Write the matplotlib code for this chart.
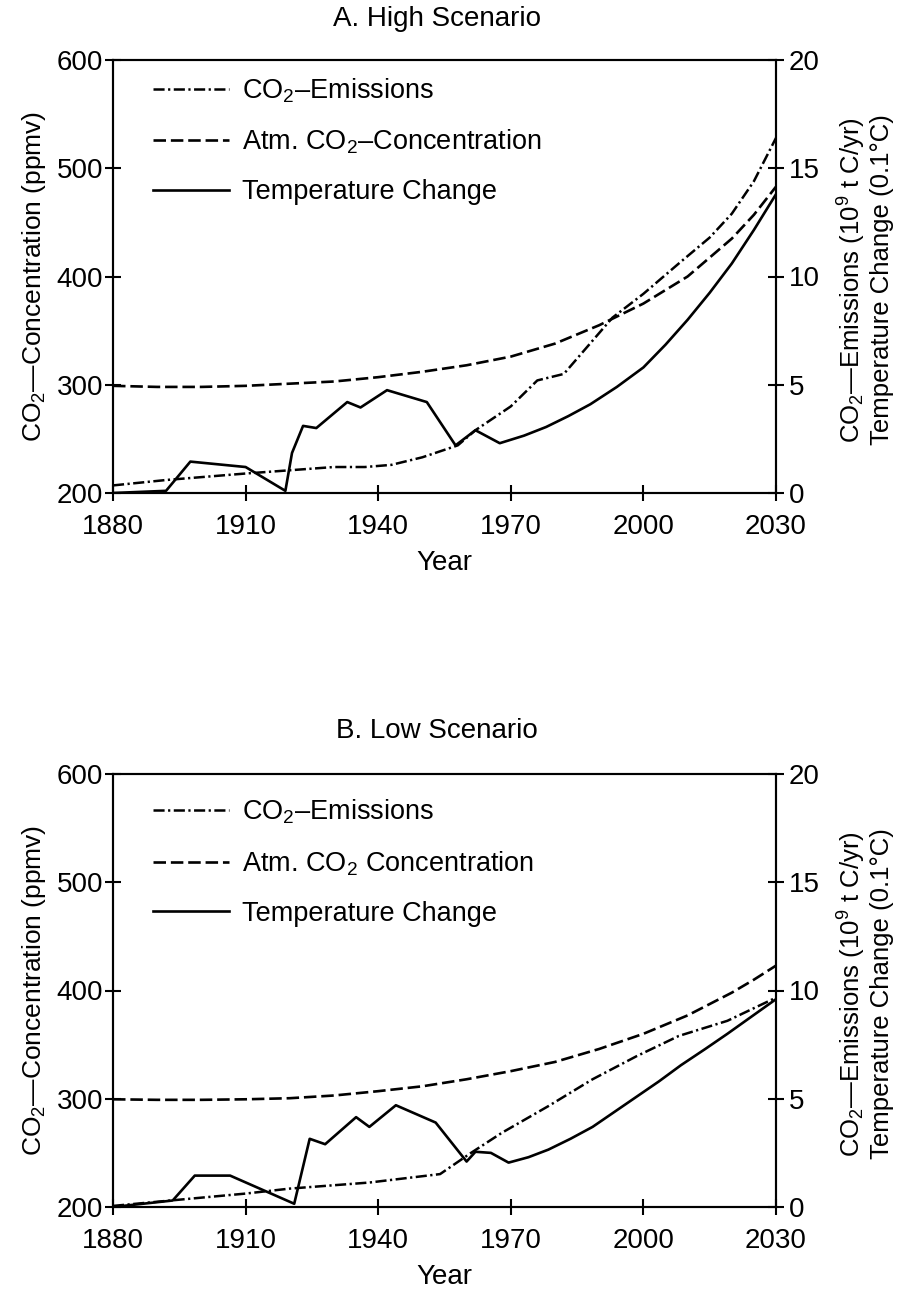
import matplotlib
matplotlib.use("Agg")
import matplotlib.pyplot as plt
import numpy as np

plt.rcParams["font.family"] = ["Liberation Sans", "DejaVu Sans"]
plt.rcParams["mathtext.fontset"] = "custom"
plt.rcParams["mathtext.rm"] = "Liberation Sans"
plt.rcParams["mathtext.it"] = "Liberation Sans:italic"
plt.rcParams["mathtext.bf"] = "Liberation Sans:bold"
plt.rcParams["lines.scale_dashes"] = False

# --- Panel A: high scenario ---
years_conc_a = [1880, 1890, 1900, 1910, 1920, 1930, 1940, 1950, 1960, 1970,
                1980, 1990, 2000, 2010, 2020, 2025, 2030]
conc_a = [299, 298, 298, 299, 301, 303, 307, 312, 318, 326,
          338, 355, 375, 400, 435, 457, 483]

years_em_a = [1880, 1892, 1910, 1920, 1930, 1937, 1943, 1950, 1958, 1962,
              1970, 1976, 1982, 1993, 2000, 2008, 2015, 2020, 2025, 2030]
em_a = [0.35, 0.6, 0.9, 1.05, 1.2, 1.2, 1.3, 1.65, 2.2, 2.9,
        4.0, 5.2, 5.5, 8.1, 9.2, 10.6, 11.8, 12.9, 14.4, 16.4]

years_t_a = [1880, 1892, 1897.5, 1910, 1919, 1920.5, 1923, 1926, 1933, 1936,
             1942, 1951, 1957.5, 1962, 1967.5, 1973, 1978, 1983, 1988, 1994,
             2000, 2005, 2010, 2015, 2020, 2025, 2030]
temp_a = [0.0, 0.1, 1.45, 1.2, 0.1, 1.85, 3.1, 3.0, 4.2, 3.95,
          4.75, 4.2, 2.2, 2.9, 2.3, 2.65, 3.05, 3.55, 4.1, 4.9,
          5.8, 6.85, 8.0, 9.25, 10.6, 12.15, 13.8]

# --- Panel B: low scenario ---
years_conc_b = [1880, 1890, 1900, 1910, 1920, 1930, 1940, 1950, 1960, 1970,
                1980, 1990, 2000, 2010, 2020, 2025, 2030]
conc_b = [299.5, 299, 299, 299.5, 300.5, 303, 307, 311.5, 318, 325.5,
          334, 346, 360, 377, 398, 410, 423]

years_em_b = [1880, 1893, 1910, 1920, 1938, 1954, 1961, 1968, 1978.5, 1988.5,
              1998.5, 2008, 2019, 2030]
em_b = [0.05, 0.3, 0.62, 0.85, 1.13, 1.52, 2.5, 3.43, 4.66, 5.9,
        6.97, 7.9, 8.6, 9.67]

years_t_b = [1880, 1893.5, 1898.5, 1906.5, 1921, 1924.5, 1928, 1935, 1938, 1944,
             1953, 1960, 1962, 1965.5, 1969.5, 1974, 1978.5, 1983.5, 1988.5,
             1993.5, 1998.5, 2003.5, 2008.5, 2014, 2019, 2024.5, 2030]
temp_b = [0.0, 0.3, 1.45, 1.45, 0.15, 3.15, 2.9, 4.15, 3.7, 4.7,
          3.9, 2.1, 2.55, 2.5, 2.05, 2.3, 2.65, 3.15, 3.7,
          4.4, 5.1, 5.8, 6.55, 7.3, 8.0, 8.8, 9.6]

x_ticks = [1880, 1910, 1940, 1970, 2000, 2030]
left_ticks = [200, 300, 400, 500, 600]
right_ticks = [0, 5, 10, 15, 20]

DASHDOT = (0, (8, 2.5, 1.6, 2.5))
DASHED = (0, (9, 3.5))
FS = 20
FS_LEG = 19.5
FS_RIGHT = 18.5


def draw_panel(ax, conc_years, conc, em_years, em, t_years, temp, legend_labels, leg_y):
    ax2 = ax.twinx()
    l1, = ax2.plot(em_years, em, color="black", lw=1.8, linestyle=DASHDOT)
    l2, = ax.plot(conc_years, conc, color="black", lw=1.9, linestyle=DASHED)
    l3, = ax2.plot(t_years, temp, color="black", lw=1.9, linestyle="-")

    ax.set_xlim(1880, 2030)
    ax.set_ylim(200, 600)
    ax2.set_ylim(0, 20)
    ax.set_xticks(x_ticks)
    ax.set_yticks(left_ticks)
    ax2.set_yticks(right_ticks)

    for a in (ax, ax2):
        for s in a.spines.values():
            s.set_linewidth(1.5)
    ax.tick_params(axis="both", direction="inout", length=12, width=1.5,
                   labelsize=FS, pad=1)
    ax.tick_params(axis="x", pad=9)
    ax2.tick_params(axis="y", direction="inout", length=12, width=1.5,
                    labelsize=FS, pad=3)

    ax.set_xlabel("Year", fontsize=FS, labelpad=7)
    ax.set_ylabel("CO$_2$—Concentration (ppmv)", fontsize=19, labelpad=6)

    ax.legend([l1, l2, l3], legend_labels, loc="upper left",
              bbox_to_anchor=(0.06, leg_y), frameon=False, fontsize=FS_LEG,
              handlelength=2.8, handletextpad=0.48, labelspacing=0.85,
              borderpad=0, borderaxespad=0)
    return ax2


fig = plt.figure(figsize=(9.04, 12.9), dpi=100)
W, H = 904, 1290
axA = fig.add_axes([113 / W, 1 - 493 / H, 663 / W, 433 / H])
axB = fig.add_axes([113 / W, 1 - 1207 / H, 663 / W, 433 / H])

draw_panel(axA, years_conc_a, conc_a, years_em_a, em_a, years_t_a, temp_a,
           ["CO$_2$–Emissions", "Atm. CO$_2$–Concentration", "Temperature Change"], 0.963)
draw_panel(axB, years_conc_b, conc_b, years_em_b, em_b, years_t_b, temp_b,
           ["CO$_2$–Emissions", "Atm. CO$_2$ Concentration", "Temperature Change"], 0.945)

fig.text(437 / W, 1 - 19 / H, "A. High Scenario", ha="center", va="center", fontsize=FS)
fig.text(437 / W, 1 - 731 / H, "B. Low Scenario", ha="center", va="center", fontsize=FS)

for yc in (280, 994):
    fig.text(852 / W, 1 - yc / H, "CO$_2$—Emissions (10$^9$ t C/yr)", rotation=90,
             ha="center", va="center", fontsize=FS_RIGHT)
    fig.text(882 / W, 1 - yc / H, "Temperature Change (0.1°C)", rotation=90,
             ha="center", va="center", fontsize=FS_RIGHT)

fig.savefig("out.png", dpi=100)
